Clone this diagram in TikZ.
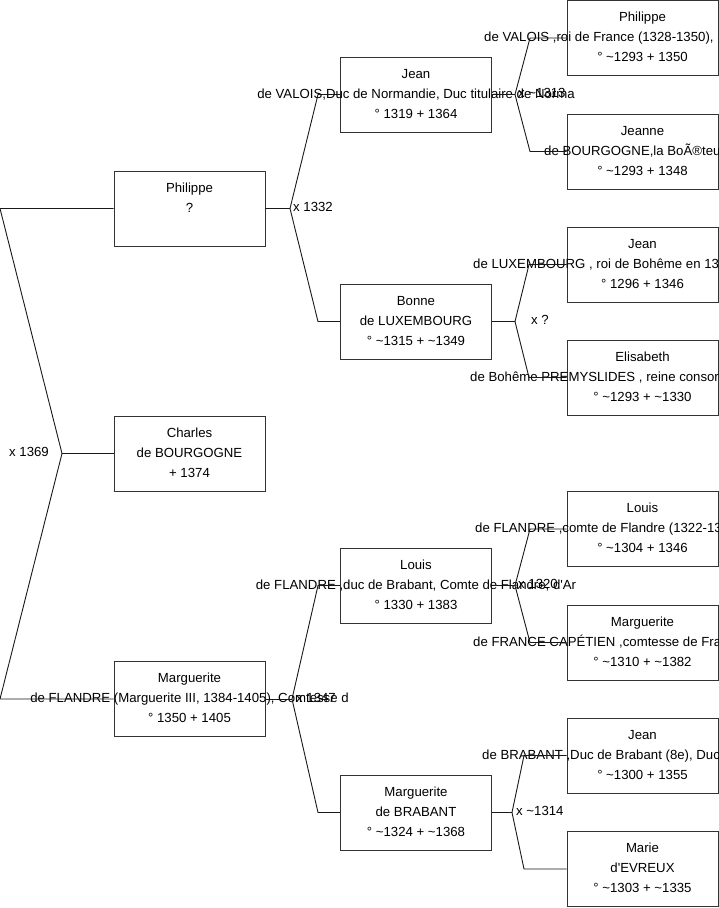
\documentclass[tikz,border=0pt]{standalone}
\usepackage{fontspec}
\setmainfont{Liberation Sans}
\newcommand\tl{\textasciitilde}
\tikzset{
  pbox/.style={draw=black!80, line width=0.9pt, minimum width=151pt, minimum height=75pt, inner sep=0pt},
  ptxt/.style={font=\fontsize{13.2}{16}\selectfont, text height=9.5pt, text depth=0pt, inner sep=0pt, anchor=center},
  lbl/.style={font=\fontsize{13.2}{16}\selectfont, text height=9.5pt, text depth=0pt, inner sep=0pt},
  conn/.style={draw=black!90, line width=0.9pt}
}
\newcommand\famperson[6]{%
  \node[pbox] (#1) at (#2,#3) {};
  \node[ptxt] (#1-a) at (#2,#3-21) {#4};
  \node[ptxt] (#1-b) at (#2,#3-1) {#5};
  \node[ptxt] (#1-c) at (#2,#3+19) {#6};
}
\newcommand\fampersonL[7]{%
  \node[pbox] (#1) at (#2,#3) {};
  \node[ptxt] (#1-a) at (#2,#3-21) {#4};
  \node[ptxt, anchor=west] (#1-b) at (#5,#3-1) {#6};
  \node[ptxt] (#1-c) at (#2,#3+19) {#7};
}
\begin{document}
\begin{tikzpicture}[x=1pt,y=-1pt]
\useasboundingbox (0,0) rectangle (719,908);
\fill[white] (0,0) rectangle (719,908);

% level 1
\famperson{phil}{189.5}{208.5}{Philippe}{?}{}
\famperson{charles}{189.5}{453.5}{Charles}{de BOURGOGNE}{+ 1374}
\famperson{marg}{189.5}{699}{Marguerite}{de FLANDRE (Marguerite III, 1384-1405), Comtesse d}{° 1350 + 1405}

% level 2
\famperson{jean}{416}{94.5}{Jean}{de VALOIS,Duc de Normandie, Duc titulaire de Norma}{° 1319 + 1364}
\famperson{bonne}{416}{321.5}{Bonne}{de LUXEMBOURG}{° \tl 1315 + \tl 1349}
\famperson{louis}{416}{585.5}{Louis}{de FLANDRE ,duc de Brabant, Comte de Flandre, d\textquotesingle Ar}{° 1330 + 1383}
\famperson{margb}{416}{812.5}{Marguerite}{de BRABANT}{° \tl 1324 + \tl 1368}

% level 3
\fampersonL{philv}{642.5}{38}{Philippe}{484}{de VALOIS ,roi de France (1328-1350),}{° \tl 1293 + 1350}
\fampersonL{jeanne}{642.5}{151.5}{Jeanne}{544}{de BOURGOGNE,la BoÃ®teuse}{° \tl 1293 + 1348}
\fampersonL{jeanl}{642.5}{264.5}{Jean}{473}{de LUXEMBOURG , roi de Bohême en 1310}{° 1296 + 1346}
\fampersonL{elis}{642.5}{377.5}{Elisabeth}{470}{de Bohême PREMYSLIDES , reine consort}{° \tl 1293 + \tl 1330}
\fampersonL{louisf}{642.5}{529}{Louis}{475}{de FLANDRE ,comte de Flandre (1322-1346)}{° \tl 1304 + 1346}
\fampersonL{margf}{642.5}{642.5}{Marguerite}{473}{de FRANCE CAPÉTIEN ,comtesse de France}{° \tl 1310 + \tl 1382}
\fampersonL{jeanb}{642.5}{755.5}{Jean}{482}{de BRABANT ,Duc de Brabant (8e), Duc}{° \tl 1300 + 1355}
\famperson{marie}{642.5}{869}{Marie}{d\textquotesingle EVREUX}{° \tl 1303 + \tl 1335}

% junction coordinates
\coordinate (v0) at (62,453.5);  \coordinate (v0a) at (0,208.5);  \coordinate (v0b) at (0,699);
\coordinate (v1) at (290,208.5); \coordinate (v1a) at (318,94.5); \coordinate (v1b) at (318,321.5);
\coordinate (v2) at (515,94.5);  \coordinate (v2a) at (530,38);   \coordinate (v2b) at (530,151.5);
\coordinate (v3) at (515,321.5); \coordinate (v3a) at (529,264.5);\coordinate (v3b) at (529,377.5);
\coordinate (v4) at (292,699);   \coordinate (v4a) at (318,585.5);\coordinate (v4b) at (318,812.5);
\coordinate (v5) at (515,585.5); \coordinate (v5a) at (530,529);  \coordinate (v5b) at (530,642.5);
\coordinate (v6) at (512,812.5); \coordinate (v6a) at (524,755.5);\coordinate (v6b) at (524,869);

% marriage labels
\node[lbl, anchor=east] (m0) at (49,452) {x 1369};
\node[lbl, anchor=west] (m1) at (293,207) {x 1332};
\node[lbl, anchor=west] (m2) at (518,93) {x \tl 1313};
\node[lbl, anchor=west] (m3) at (531,320) {x ?};
\node[lbl, anchor=west] (m4) at (296,698) {x 1347};
\node[lbl, anchor=west] (m5) at (518,584) {x 1320};
\node[lbl, anchor=west] (m6) at (516,811) {x \tl 1314};

% connectors
\draw[conn] (charles.west) -- (v0);
\draw[conn] (phil.west) -- (v0a) -- (v0) -- (v0b) -- (marg.west);
\draw[conn] (phil.east) -- (v1);
\draw[conn] (jean.west) -- (v1a) -- (v1) -- (v1b) -- (bonne.west);
\draw[conn] (jean.east) -- (v2);
\draw[conn] (philv.west) -- (v2a) -- (v2) -- (v2b) -- (jeanne.west);
\draw[conn] (bonne.east) -- (v3);
\draw[conn] (jeanl.west) -- (v3a) -- (v3) -- (v3b) -- (elis.west);
\draw[conn] (marg.east) -- (v4);
\draw[conn] (louis.west) -- (v4a) -- (v4) -- (v4b) -- (margb.west);
\draw[conn] (louis.east) -- (v5);
\draw[conn] (louisf.west) -- (v5a) -- (v5) -- (v5b) -- (margf.west);
\draw[conn] (margb.east) -- (v6);
\draw[conn] (jeanb.west) -- (v6a) -- (v6) -- (v6b) -- (marie.west);
\end{tikzpicture}
\end{document}
